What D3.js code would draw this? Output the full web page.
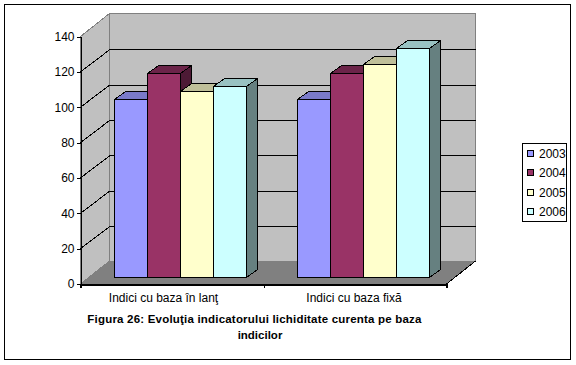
<!DOCTYPE html>
<html>
<head>
<meta charset="utf-8">
<script src="https://cdn.jsdelivr.net/npm/d3@7"></script>
<style>
  html, body { margin: 0; padding: 0; background: #fff; }
  svg { display: block; }
  text { font-family: "Liberation Sans", Arial, sans-serif; fill: #000; }
  polygon, rect, path, line { shape-rendering: crispEdges; }
</style>
</head>
<body>
<script>
const categories = ['Indici cu baza în lanţ', 'Indici cu baza fixă'];
const years = ['2003', '2004', '2005', '2006'];
const values2003 = [100.5, 100.5];
const values2004 = [115.5, 115.5];
const values2005 = [105, 120.5];
const values2006 = [108, 129.5];
const seriesValues = [values2003, values2004, values2005, values2006];
const ticks = [0, 20, 40, 60, 80, 100, 120, 140];

const colors = ['#9999ff', '#993366', '#ffffcc', '#ccffff'];
const topColors = ['#7a7ac9', '#6b2449', '#bfbf99', '#99c2c2'];
const sideColors = ['#5c5c99', '#4d1a35', '#808066', '#668080'];

const width = 576, height = 365;
const svg = d3.select('body').append('svg')
  .attr('width', width)
  .attr('height', height);

const x0 = 80.5, x1 = 446.5, y0 = 284, y140 = 36.5;
const depthX = 29, depthY = -23, gridDepthY = -22;
const barDepthX = 11, barDepthY = -8;
const barBase = 277.5, barWidth = 33;

const y = d3.scaleLinear().domain([0, 140]).range([y0, y140]);
const barH = v => y(0) - y(v);
const group = d3.scaleBand().domain(categories).range([x0, x1]);
const bar = d3.scaleBand().domain(years)
  .range([33.5, group.bandwidth() - 16.5]);

// frame
svg.append('rect')
  .attr('x', 4.5).attr('y', 4.5)
  .attr('width', 566).attr('height', 355)
  .attr('fill', '#fff').attr('stroke', '#000');

const poly = (pts, fill, stroke) => svg.append('polygon')
  .attr('points', pts.map(p => p.join(',')).join(' '))
  .attr('fill', fill)
  .attr('stroke', stroke || 'none');

const seg = (pts, stroke) => svg.append('path')
  .attr('d', d3.line()(pts))
  .attr('fill', 'none')
  .attr('stroke', stroke);

// walls and floor
poly([[x0 + depthX, y140 + depthY], [x1 + depthX, y140 + depthY], [x1 + depthX, y0 + depthY], [x0 + depthX, y0 + depthY]], '#c0c0c0', '#808080');
poly([[x0, y140], [x0 + depthX, y140 + depthY], [x0 + depthX, y0 + depthY], [x0, y0]], '#c0c0c0', '#808080');
poly([[x0, y0], [x0 + depthX, y0 + depthY], [x1 + depthX, y0 + depthY], [x1, y0]], '#808080', '#808080');
seg([[x1, y0], [x1 + depthX, y0 + depthY]], '#000');

// gridlines
ticks.slice(1, -1).forEach(t => {
  seg([[x0, y(t)], [x0 + depthX, y(t) + gridDepthY], [x1 + depthX, y(t) + gridDepthY]], '#000');
});

// bars
categories.forEach((c, ci) => {
  const gx = group(c);
  years.forEach((yr, si) => {
    const left = Math.floor(gx + bar(yr)) + 0.5;
    const right = left + barWidth;
    const top = Math.floor(barBase - barH(seriesValues[si][ci])) + 0.5;
    poly([[right, top], [right + barDepthX, top + barDepthY], [right + barDepthX, barBase + barDepthY], [right, barBase]], sideColors[si], '#000');
    poly([[left, top], [left + barDepthX, top + barDepthY], [right + barDepthX, top + barDepthY], [right, top]], topColors[si], '#000');
    svg.append('rect')
      .attr('x', left).attr('y', top)
      .attr('width', barWidth).attr('height', barBase - top)
      .attr('fill', colors[si]).attr('stroke', '#000');
  });
});

// axes
const yAxis = d3.axisLeft(y).tickValues(ticks).tickSize(4).tickPadding(2);
const gy = svg.append('g').attr('transform', `translate(${x0},0)`).call(yAxis);
gy.select('.domain').attr('stroke', '#000');
gy.selectAll('text').style('font-size', '12px');

const xAxis = d3.axisBottom(d3.scaleLinear().domain([0, 2]).range([x0, x1]))
  .tickValues([0, 1, 2]).tickSize(4).tickFormat('');
const gx = svg.append('g').attr('transform', `translate(0,${y0})`).call(xAxis);
gx.select('.domain').attr('stroke', '#000').attr('stroke-width', 2);

// the first label sits left of its group centre in the original
const labelShift = [-8.5, -1];
svg.append('g').selectAll('text')
  .data(categories)
  .join('text')
  .attr('x', (d, i) => group(d) + group.bandwidth() / 2 + labelShift[i])
  .attr('y', 302)
  .attr('text-anchor', 'middle')
  .style('font-size', '12px')
  .text(d => d);

// caption
svg.append('text')
  .attr('x', 254.5).attr('y', 323)
  .attr('text-anchor', 'middle')
  .style('font-size', '11.5px').style('font-weight', 'bold')
  .style('letter-spacing', '0.2px')
  .text('Figura 26: Evoluţia indicatorului lichiditate curenta pe baza');
svg.append('text')
  .attr('x', 260).attr('y', 339)
  .attr('text-anchor', 'middle')
  .style('font-size', '11.5px').style('font-weight', 'bold')
  .text('indicilor');

// legend
const legend = svg.append('g');
legend.append('rect')
  .attr('x', 522.5).attr('y', 143.5)
  .attr('width', 44).attr('height', 78)
  .attr('fill', '#fff').attr('stroke', '#000');
const rowY = d3.scalePoint().domain(years).range([154, 212]);
years.forEach((yr, i) => {
  legend.append('rect')
    .attr('x', 527.5).attr('y', rowY(yr) - 3.5)
    .attr('width', 6).attr('height', 6)
    .attr('fill', colors[i]).attr('stroke', '#000');
  legend.append('text')
    .attr('x', 539).attr('y', rowY(yr) + 4)
    .style('font-size', '12px')
    .text(yr);
});
</script>
</body>
</html>
